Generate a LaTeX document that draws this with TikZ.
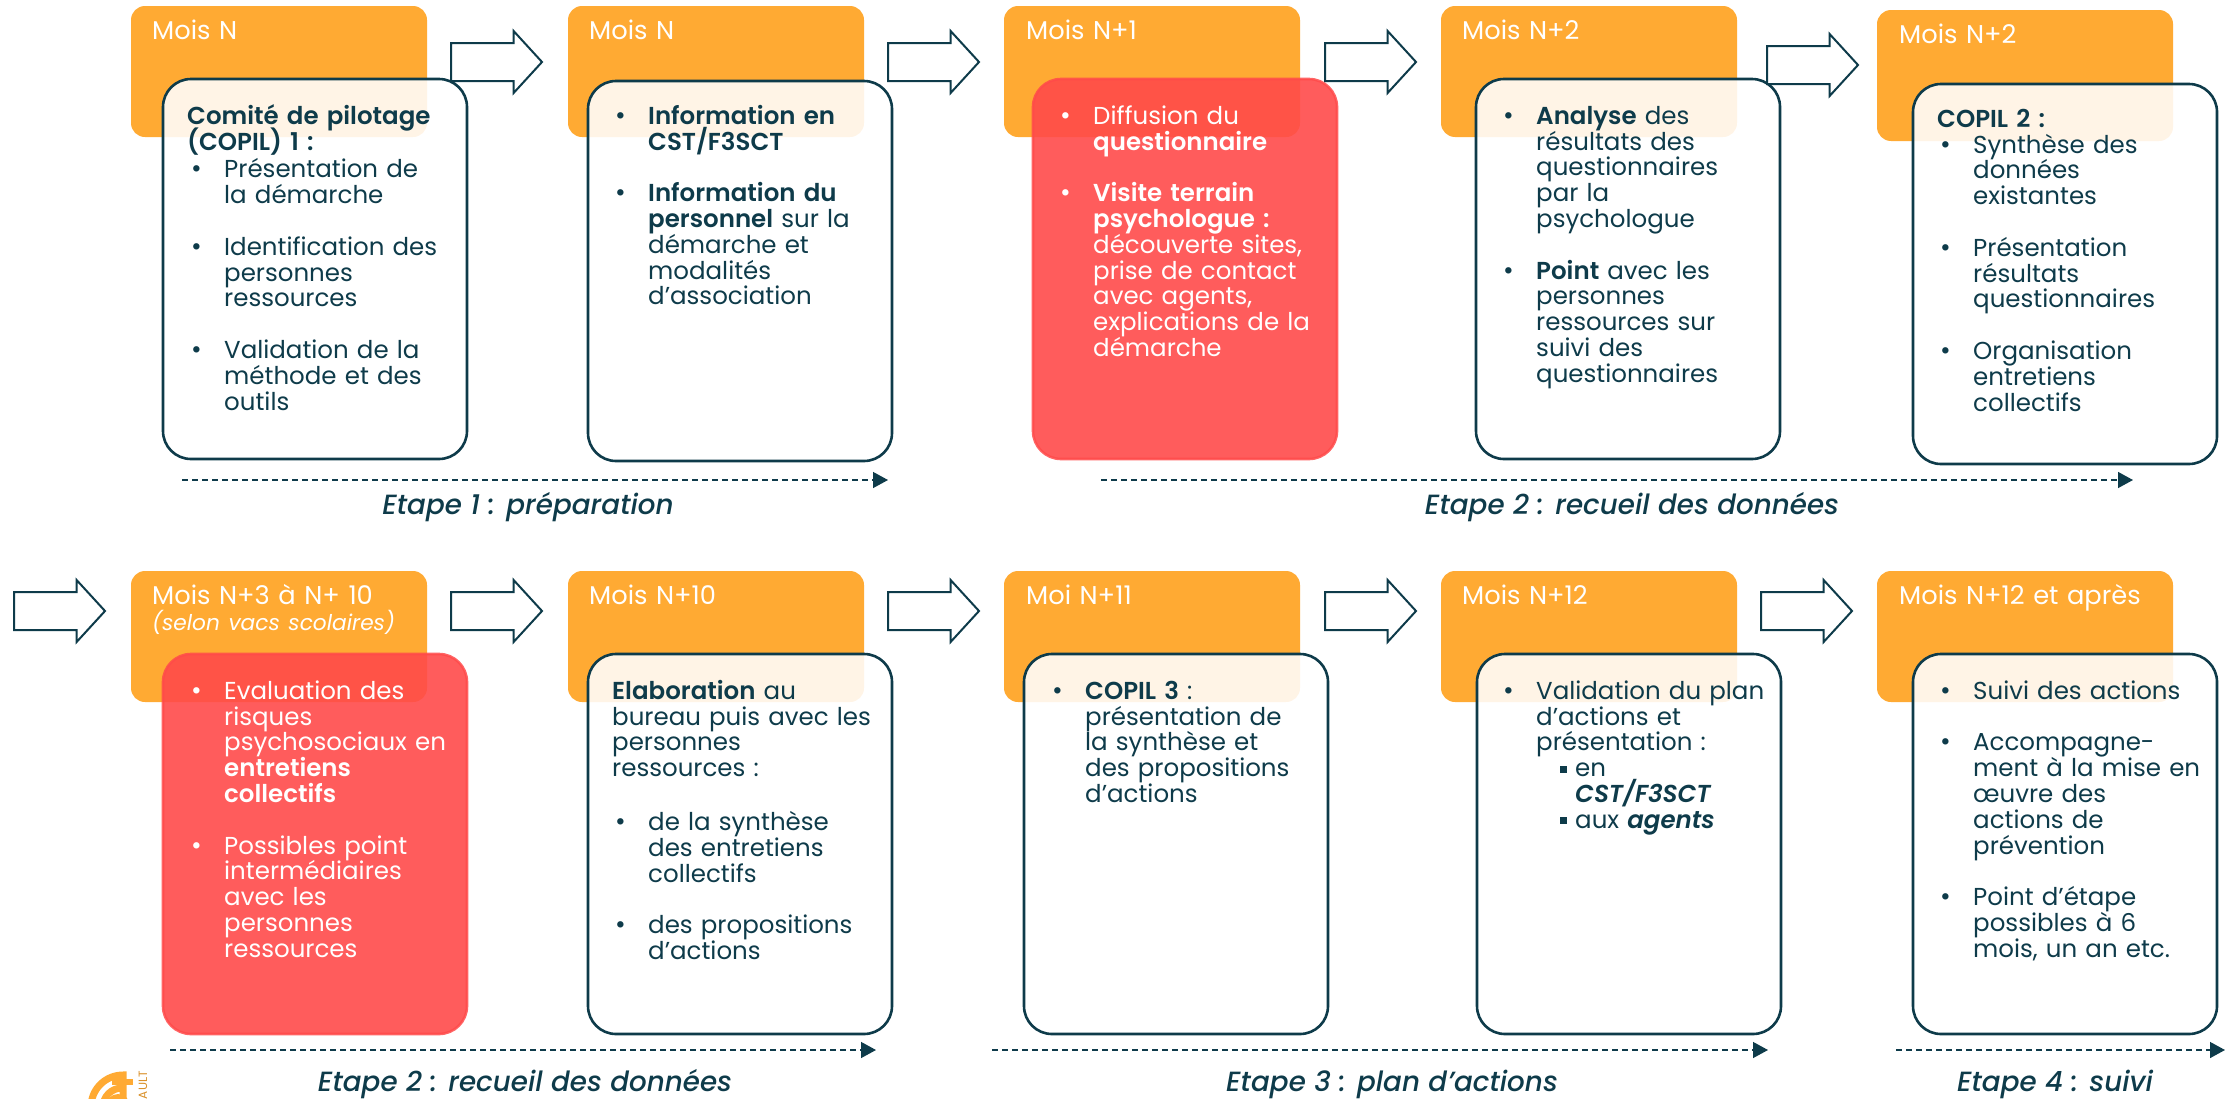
\documentclass[tikz,border=0pt]{standalone}
\usepackage{xcolor}
\usepackage{fontspec}
\setmainfont{Poppins}[BoldFont={Poppins SemiBold},BoldItalicFont={Poppins SemiBold Italic}]
\newfontfamily\etapefont{Poppins Medium Italic}
\usepackage{tikz}
\usetikzlibrary{arrows.meta,shapes.arrows}

\definecolor{encre}{HTML}{0E3B4A}
\definecolor{orangemois}{HTML}{FFAA33}
\definecolor{rouge}{HTML}{FF4A4A}

\normallineskiplimit=-100pt
\lineskiplimit=-100pt
\newcommand{\puce}[1]{\makebox[33pt][l]{\fontsize{26}{26}\selectfont •}\parbox[t]{270pt}{#1\par\xdef\finpuce{\the\prevdepth}}\par\prevdepth=\finpuce\relax}
\newcommand{\sautligne}{\vspace{25.8pt}}
\newcommand{\carre}{\makebox[15pt][l]{\rule[4pt]{7pt}{7pt}}}

\tikzset{
    mois/.style={fill=orangemois, rounded corners=14pt, anchor=north west, outer sep=0, inner sep=0,
                 minimum width=296pt, minimum height=131pt},
    moislabel/.style={anchor=north west, inner sep=0, text height=18pt, text width=290pt, text=white, align=left,
                      font=\fontsize{25.7}{26}\selectfont},
    panneau/.style={draw=encre, line width=2.6pt, fill=white, fill opacity=.88, rounded corners=28pt,
                    anchor=north west, outer sep=0, inner sep=0, minimum width=304pt, minimum height=380pt},
    panneaurouge/.style={panneau, draw=rouge, draw opacity=.85, fill=rouge, fill opacity=.9},
    corps/.style={anchor=north west, inner sep=0, text height=18pt, text width=300pt, align=left, text=encre,
                  font=\fontsize{24.5}{25.8}\selectfont},
    corpsrouge/.style={corps, text=white},
    bloc/.style={single arrow, draw=encre, line width=2pt, fill=white, inner xsep=0, inner ysep=18pt,
                 minimum height=91pt, single arrow head extend=12pt, single arrow tip angle=95,
                 single arrow head indent=0pt, anchor=west, outer sep=0},
    etape/.style={inner sep=0, text=encre, font=\fontsize{27.8}{30}\etapefont},
    duree/.style={draw=encre, line width=1.4pt, dash pattern=on 6pt off 4pt, -{Triangle[length=15pt,width=16pt]}},
}

\begin{document}
\begin{tikzpicture}[x=1pt,y=-1pt]
    \useasboundingbox (0,0) rectangle (2225,1098);
    \clip (0,0) rectangle (2225,1098);

    \node[mois] (m1) at (131,6) {};
    \node[mois] (m2) at (568,6) {};
    \node[mois] (m3) at (1004,6) {};
    \node[mois] (m4) at (1441,6) {};
    \node[mois] (m5) at (1877,10) {};
    \node[mois] (m6) at (131,571) {};
    \node[mois] (m7) at (568,571) {};
    \node[mois] (m8) at (1004,571) {};
    \node[mois] (m9) at (1441,571) {};
    \node[mois] (m10) at (1877,571) {};

    \node[moislabel] (l1) at (152,21) {Mois N};
    \node[moislabel] (l2) at (589,21) {Mois N};
    \node[moislabel] (l3) at (1026,21) {Mois N+1};
    \node[moislabel] (l4) at (1462,21) {Mois N+2};
    \node[moislabel] (l5) at (1899,25) {Mois N+2};
    \node[moislabel] (l6) at (152,586) {Mois N+3 à N+ 10\\{\fontsize{21.7}{26}\selectfont\itshape (selon vacs scolaires)}};
    \node[moislabel] (l7) at (589,586) {Mois N+10};
    \node[moislabel] (l8) at (1026,586) {Moi N+11};
    \node[moislabel] (l9) at (1462,586) {Mois N+12};
    \node[moislabel] (l10) at (1899,586) {Mois N+12 et après};

    \node[panneau] (p1) at (163,79) {};
    \node[panneau] (p2) at (588,81) {};
    \node[panneaurouge] (p3) at (1033,79) {};
    \node[panneau] (p4) at (1476,79) {};
    \node[panneau] (p5) at (1913,84) {};
    \node[panneaurouge] (p6) at (163,654) {};
    \node[panneau] (p7) at (588,654) {};
    \node[panneau] (p8) at (1024,654) {};
    \node[panneau] (p9) at (1477,654) {};
    \node[panneau] (p10) at (1913,654) {};

    \node[corps] (c1) at (187,106) {\textbf{Comité de pilotage}\\\textbf{(COPIL) 1 :}\par\vspace{2pt}
        \hspace*{4pt}\puce{Présentation de\\la démarche}\sautligne
        \hspace*{4pt}\puce{Identification des\\personnes\\ressources}\sautligne
        \hspace*{4pt}\puce{Validation de la\\méthode et des\\outils}};
    \node[corps] (c2) at (615,106) {\puce{\textbf{Information en}\\\textbf{CST/F3SCT}}\sautligne
        \puce{\textbf{Information du}\\\textbf{personnel} sur la\\démarche et\\modalités\\d’association}};
    \node[corpsrouge] (c3) at (1060,106) {\puce{Diffusion du\\\textbf{questionnaire}}\sautligne
        \puce{\textbf{Visite terrain}\\\textbf{psychologue :}\\découverte sites,\\prise de contact\\avec agents,\\explications de la\\démarche}};
    \node[corps] (c4) at (1503,106) {\puce{\textbf{Analyse} des\\résultats des\\questionnaires\\par la\\psychologue}\sautligne
        \puce{\textbf{Point} avec les\\personnes\\ressources sur\\suivi des\\questionnaires}};
    \node[corps] (c5) at (1937,109) {\textbf{COPIL 2 :}\par
        \hspace*{3pt}\puce{Synthèse des\\données\\existantes}\sautligne
        \hspace*{3pt}\puce{Présentation\\résultats\\questionnaires}\sautligne
        \hspace*{3pt}\puce{Organisation\\entretiens\\collectifs}};
    \node[corpsrouge] (c6) at (191,681) {\puce{Evaluation des\\risques\\psychosociaux en\\\textbf{entretiens}\\\textbf{collectifs}}\sautligne
        \puce{Possibles point\\intermédiaires\\avec les\\personnes\\ressources}};
    \node[corps] (c7) at (612,681) {\textbf{Elaboration} au\\bureau puis avec les\\personnes\\ressources :\par\vspace{28pt}
        \hspace*{3pt}\puce{de la synthèse\\des entretiens\\collectifs}\sautligne
        \hspace*{3pt}\puce{des propositions\\d’actions}};
    \node[corps] (c8) at (1052,681) {\puce{\textbf{COPIL 3} :\\présentation de\\la synthèse et\\des propositions\\d’actions}};
    \node[corps] (c9) at (1503,681) {\puce{Validation du plan\\d’actions et\\présentation :\\\hspace*{24pt}\carre en\\\hspace*{39pt}\textbf{\textit{CST/F3SCT}}\\\hspace*{24pt}\carre aux \textbf{\textit{agents}}}};
    \node[corps] (c10) at (1940,681) {\puce{Suivi des actions}\sautligne
        \puce{Accompagne-\\ment à la mise en\\œuvre des\\actions de\\prévention}\sautligne
        \puce{Point d’étape\\possibles à 6\\mois, un an etc.}};

    \node[bloc] (f1) at (451,62) {};
    \node[bloc] (f2) at (888,62) {};
    \node[bloc] (f3) at (1325,62) {};
    \node[bloc] (f4) at (1767,65) {};
    \node[bloc] (f5) at (14,611) {};
    \node[bloc] (f6) at (451,611) {};
    \node[bloc] (f7) at (888,611) {};
    \node[bloc] (f8) at (1325,611) {};
    \node[bloc] (f9) at (1761,611) {};

    \coordinate (d1) at (182,480);
    \coordinate (a1) at (888,480);
    \coordinate (d2) at (1101,480);
    \coordinate (a2) at (2133,480);
    \coordinate (d3) at (170,1050);
    \coordinate (a3) at (876,1050);
    \coordinate (d4) at (992,1050);
    \coordinate (a4) at (1768,1050);
    \coordinate (d5) at (1896,1050);
    \coordinate (a5) at (2225,1050);
    \draw[duree] (d1) -- (a1);
    \draw[duree] (d2) -- (a2);
    \draw[duree] (d3) -- (a3);
    \draw[duree] (d4) -- (a4);
    \draw[duree] (d5) -- (a5);

    \node[etape] (e1) at (528,507) {Etape 1 : préparation};
    \node[etape] (e2) at (1632,507) {Etape 2 : recueil des données};
    \node[etape] (e3) at (525,1084) {Etape 2 : recueil des données};
    \node[etape] (e4) at (1392,1084) {Etape 3 : plan d’actions};
    \node[etape] (e5) at (2055,1084) {Etape 4 : suivi};

    \draw[orangemois, line width=7pt] (91,1107) arc (180:270:32) -- (123,1110);
    \draw[orangemois, line width=7pt] (103,1107) arc (180:270:19);
    \draw[orangemois, line width=6pt] (112,1082) -- (133,1082);
    \fill[orangemois] (118,1106) circle (12);
    \node[rotate=90, anchor=east, inner sep=0, text=orangemois!85!black, font=\fontsize{12}{12}\selectfont] (g1) at (143,1071) {AULT};
\end{tikzpicture}
\end{document}
